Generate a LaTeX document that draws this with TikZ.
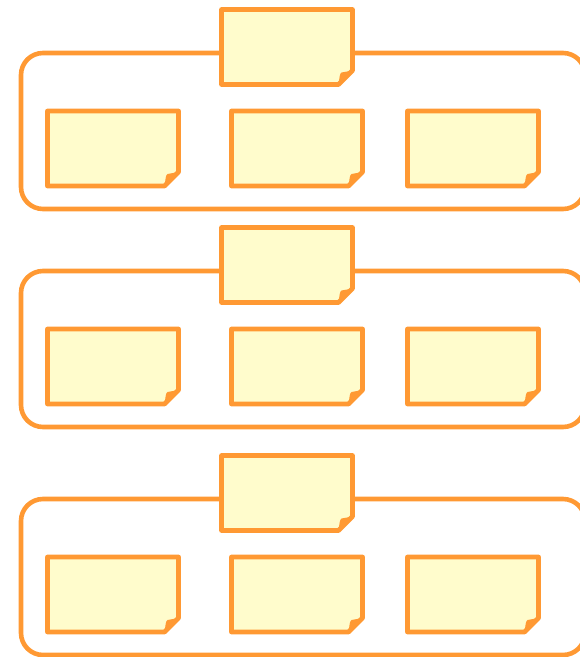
\documentclass[tikz,border=0pt]{standalone}
\usepackage{xcolor}
\usetikzlibrary{positioning}
\definecolor{noteorange}{RGB}{255,153,51}
\definecolor{noteyellow}{RGB}{255,252,204}

\tikzset{
	group/.style={draw=noteorange, line width=4.6pt, rounded corners=22pt,
		minimum width=564pt, minimum height=156pt, inner sep=0pt},
	notebox/.style={minimum width=131pt, minimum height=75pt, inner sep=0pt, outer sep=0pt},
	noteline/.style={draw=noteorange, fill=noteyellow, line width=4.8pt, line join=round}
}

% sticky note with folded corner, drawn over a named node
\newcommand{\dogear}[1]{%
	\path[noteline] (#1.north west) -- (#1.north east) -- ([yshift=14pt]#1.south east)
		-- ([xshift=-14pt]#1.south east) -- (#1.south west) -- cycle;
	\fill[noteorange] ([xshift=-14pt]#1.south east)
		.. controls ([xshift=-13pt,yshift=6pt]#1.south east) and ([xshift=-13pt,yshift=11pt]#1.south east)
		.. ([xshift=-11pt,yshift=12pt]#1.south east) -- ([yshift=14pt]#1.south east) -- cycle;
}

\begin{document}
\begin{tikzpicture}[x=1pt,y=-1pt]
	\useasboundingbox (0,0) rectangle (580,657);
	
	\foreach \s/\dy in {1/0,2/218,3/446}{
		\begin{scope}[yshift=-\dy pt]
			% group frame
			\node[group] (box\s) at (303,131) {};
			% title note on the frame
			\node[notebox] (title\s) at (287,47) {};
			\dogear{title\s}
			% three notes inside
			\node[notebox] (left\s) at (113,148.5) {};
			\node[notebox] (mid\s) at (297,148.5) {};
			\node[notebox] (right\s) at (473,148.5) {};
			\dogear{left\s}
			\dogear{mid\s}
			\dogear{right\s}
		\end{scope}
	}
\end{tikzpicture}
\end{document}
